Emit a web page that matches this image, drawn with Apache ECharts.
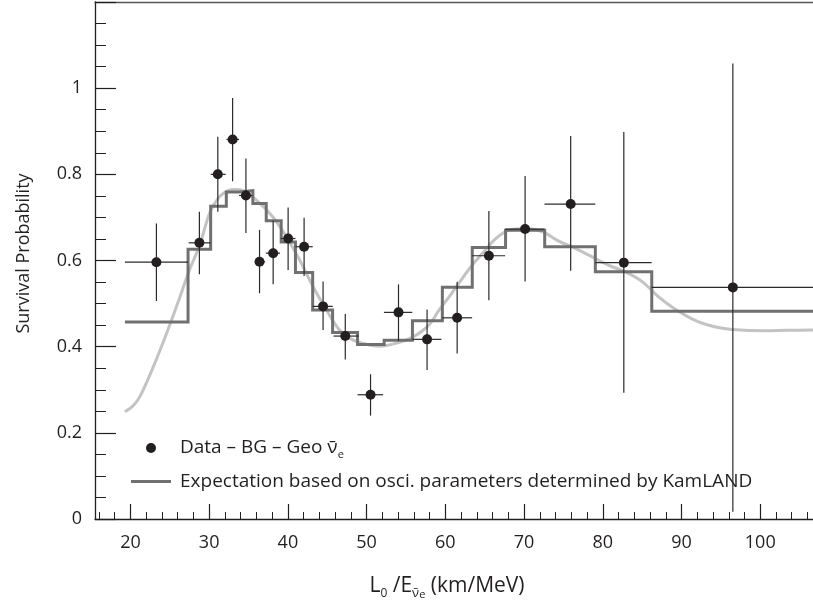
<!DOCTYPE html>
<html><head><meta charset="utf-8">
<script src="https://cdn.jsdelivr.net/npm/echarts@6/dist/echarts.min.js"></script>
<style>html,body{margin:0;padding:0;background:#fff}#c{width:813px;height:605px}</style>
</head><body><div id="c"></div>
<script>
// ---- data ----
const xTickLabels = [20, 30, 40, 50, 60, 70, 80, 90, 100];
const yTickLabels = [0, 0.2, 0.4, 0.6, 0.8, 1];
const dataX   = [23.3, 28.76, 31.1, 32.98, 34.67, 36.4, 38.13, 40.03, 42.06, 44.47, 47.29, 50.5, 54.05, 57.68, 61.5, 65.53, 70.13, 75.92, 82.67, 96.52];
const dataY   = [0.596, 0.641, 0.800, 0.881, 0.751, 0.597, 0.617, 0.651, 0.632, 0.4935, 0.4246, 0.2884, 0.4796, 0.417, 0.467, 0.611, 0.673, 0.731, 0.595, 0.5376];
const dataXLo = [19.3, 27.4, 30.2, 32.2, 33.8, 35.8, 37.2, 39.1, 40.96, 43.15, 45.8, 48.85, 52.2, 55.8, 59.6, 63.4, 67.6, 72.6, 79.05, 86.2];
const dataXHi = [27.3, 30.2, 32.1, 33.8, 35.5, 37.1, 39.0, 40.96, 43.15, 45.7, 49.0, 52.1, 55.8, 59.5, 63.4, 67.6, 72.6, 79.05, 86.2, 108];
const dataYLo = [0.506, 0.568, 0.713, 0.784, 0.664, 0.524, 0.545, 0.578, 0.564, 0.4385, 0.3705, 0.240, 0.4137, 0.3457, 0.3844, 0.508, 0.551, 0.576, 0.293, 0.017];
const dataYHi = [0.686, 0.713, 0.887, 0.977, 0.837, 0.671, 0.692, 0.723, 0.699, 0.551, 0.4756, 0.336, 0.5445, 0.4865, 0.5506, 0.715, 0.796, 0.889, 0.898, 1.057];

const binEdges    = [19.3, 27.32, 30.19, 32.18, 33.8, 35.55, 37.25, 39.15, 40.96, 43.15, 45.68, 48.85, 52.23, 55.82, 59.62, 63.42, 67.65, 72.62, 79.05, 86.22, 110];
const expectation = [0.457, 0.626, 0.726, 0.759, 0.762, 0.7325, 0.692, 0.643, 0.572, 0.485, 0.433, 0.405, 0.415, 0.460, 0.538, 0.630, 0.6705, 0.632, 0.574, 0.482];

const curveX = [19.3, 20.3, 21.2, 22.9, 24.6, 26.3, 27.5, 28.8, 30.1, 31.3, 32.4, 33.2, 34.3, 36.0, 38.1, 39.8, 41.5, 43.2, 44.9, 46.5, 48.0, 49.5, 51.6, 53.7, 55.8, 57.9, 59.2, 60.5, 61.7, 63.4, 64.7, 66.4, 68.1, 70.2, 72.3, 74.4, 76.3, 78.6, 80.7, 82.8, 85.0, 87.05, 89.2, 92.1, 94.5, 96.4, 100.6, 103.5, 107];
const curveY = [0.249, 0.262, 0.284, 0.353, 0.431, 0.516, 0.578, 0.636, 0.712, 0.748, 0.762, 0.765, 0.762, 0.740, 0.701, 0.655, 0.601, 0.539, 0.485, 0.440, 0.418, 0.4076, 0.401, 0.4076, 0.4215, 0.450, 0.485, 0.516, 0.547, 0.589, 0.616, 0.651, 0.6705, 0.6745, 0.667, 0.645, 0.630, 0.609, 0.589, 0.574, 0.551, 0.516, 0.487, 0.458, 0.445, 0.440, 0.437, 0.438, 0.4385];

// ---- build ----
const xMinorTicks = [];
for (let v = 16; v <= 106; v += 2) if (v % 10 !== 0) xMinorTicks.push(v);

const points = dataX.map((x, i) => [x, dataY[i]]);
const errBars = dataX.map((x, i) => [x, dataY[i], dataXLo[i], dataXHi[i], dataYLo[i], dataYHi[i]]);
const stepData = [];
expectation.forEach((v, i) => { stepData.push([binEdges[i], v]); stepData.push([binEdges[i + 1], v]); });
const curveData = curveX.map((x, i) => [x, curveY[i]]);

const FONT = 'Open Sans';
const TXT = '#231f20';
const XMIN = 15.5, XMAX = 106.7;

const chart = echarts.init(document.getElementById('c'), null, { renderer: 'canvas' });
chart.setOption({
  animation: false,
  backgroundColor: '#ffffff',
  textStyle: { fontFamily: FONT, color: TXT },
  grid: { left: 95, right: -2, top: 2, bottom: 86, containLabel: false },
  legend: [
    {
      data: [{ name: 'Data', icon: 'circle' }],
      orient: 'vertical', left: 146, top: 436, padding: 0,
      itemWidth: 10, itemHeight: 10,
      itemStyle: { borderWidth: 0, opacity: 1 },
      formatter: () => '{d|Data – BG – Geo ν̄}{s|e}',
      textStyle: {
        fontFamily: FONT, fontSize: 19, color: TXT, lineHeight: 24,
        rich: {
          d: { fontFamily: FONT, fontSize: 19, color: TXT, lineHeight: 24, padding: [0, 0, 0, 19] },
          s: { fontFamily: FONT, fontSize: 11, color: TXT, lineHeight: 13, verticalAlign: 'bottom' }
        }
      },
      selectedMode: false
    },
    {
      data: [{ name: 'Expectation', icon: 'rect' }],
      orient: 'vertical', left: 131, top: 472, padding: 0,
      itemWidth: 40, itemHeight: 3,
      itemStyle: { borderWidth: 0 },
      formatter: () => '{t|Expectation based on osci. parameters determined by KamLAND}',
      textStyle: {
        fontFamily: FONT, fontSize: 19, color: TXT,
        rich: { t: { fontFamily: FONT, fontSize: 19, color: TXT, padding: [0, 0, 0, 4] } }
      },
      selectedMode: false
    }
  ],
  xAxis: [
    {
      type: 'value', min: XMIN, max: XMAX, position: 'bottom',
      name: '{a|L}{s|0}{a| /E}{n|ν̄}{e|e}{a| (km/MeV)}',
      nameLocation: 'middle', nameGap: 53,
      nameTextStyle: {
        fontFamily: FONT, color: TXT, padding: [0, 14, 0, 0],
        rich: {
          a: { fontFamily: FONT, fontSize: 21, color: TXT, lineHeight: 28 },
          s: { fontFamily: FONT, fontSize: 12, color: TXT, lineHeight: 14, verticalAlign: 'bottom' },
          n: { fontFamily: FONT, fontSize: 13, color: TXT, lineHeight: 15, verticalAlign: 'bottom' },
          e: { fontFamily: FONT, fontSize: 11, color: TXT, lineHeight: 8, verticalAlign: 'bottom' }
        }
      },
      axisLine: { show: true, onZero: false, lineStyle: { color: TXT, width: 1.3 } },
      axisTick: { show: true, inside: true, length: 15, customValues: xTickLabels, lineStyle: { color: TXT, width: 1.2 } },
      axisLabel: { show: true, customValues: xTickLabels, margin: 15, fontFamily: FONT, fontSize: 18, color: TXT },
      splitLine: { show: false }
    },
    {
      type: 'value', min: XMIN, max: XMAX, position: 'bottom',
      axisLine: { show: false },
      axisTick: { show: true, inside: true, length: 7, customValues: xMinorTicks, lineStyle: { color: TXT, width: 1 } },
      axisLabel: { show: false },
      splitLine: { show: false }
    },
    {
      type: 'value', min: XMIN, max: XMAX, position: 'top',
      axisLine: { show: true, onZero: false, lineStyle: { color: '#555', width: 1.3 } },
      axisTick: { show: false }, axisLabel: { show: false }, splitLine: { show: false }
    }
  ],
  yAxis: {
    type: 'value', min: 0, max: 1.2, interval: 0.2,
    name: 'Survival Probability', nameLocation: 'middle', nameGap: 62,
    nameTextStyle: { fontFamily: FONT, fontSize: 18, color: TXT, padding: [0, 0, 0, 14] },
    axisLine: { show: true, onZero: false, lineStyle: { color: TXT, width: 1.3 } },
    axisTick: { show: true, inside: true, length: 21, lineStyle: { color: TXT, width: 1.2 } },
    minorTick: { show: true, splitNumber: 4, length: 11, lineStyle: { color: TXT, width: 1 } },
    axisLabel: {
      show: true, margin: 13, fontFamily: FONT, fontSize: 18, color: TXT,
      formatter: v => (yTickLabels.some(t => Math.abs(t - v) < 1e-9) ? String(+v.toFixed(1)) : '')
    },
    splitLine: { show: false }
  },
  series: [
    {
      name: 'Curve', type: 'line', data: curveData, smooth: 0.35, symbol: 'none',
      lineStyle: { color: '#c3c3c3', width: 3 }, itemStyle: { color: '#c3c3c3' }, z: 1, clip: true
    },
    {
      name: 'Expectation', type: 'line', data: stepData, symbol: 'none', smooth: false,
      lineStyle: { color: '#707070', width: 3, join: 'miter' }, itemStyle: { color: '#707070' }, z: 2, clip: true
    },
    {
      name: 'ErrorBars', type: 'custom', data: errBars, z: 3, clip: true,
      encode: { x: 0, y: 1 },
      renderItem: (params, api) => {
        const x = api.value(0), y = api.value(1);
        const a = api.coord([api.value(2), y]), b = api.coord([api.value(3), y]);
        const c = api.coord([x, api.value(4)]), d = api.coord([x, api.value(5)]);
        const st = { stroke: '#2a2a2a', lineWidth: 1.2 };
        return {
          type: 'group',
          children: [
            { type: 'line', shape: { x1: a[0], y1: a[1], x2: b[0], y2: b[1] }, style: st },
            { type: 'line', shape: { x1: c[0], y1: c[1], x2: d[0], y2: d[1] }, style: st }
          ]
        };
      }
    },
    {
      name: 'Data', type: 'scatter', data: points, symbol: 'circle', symbolSize: 10,
      itemStyle: { color: '#231f20', opacity: 1 }, z: 4
    }
  ]
});
</script>
</body></html>
